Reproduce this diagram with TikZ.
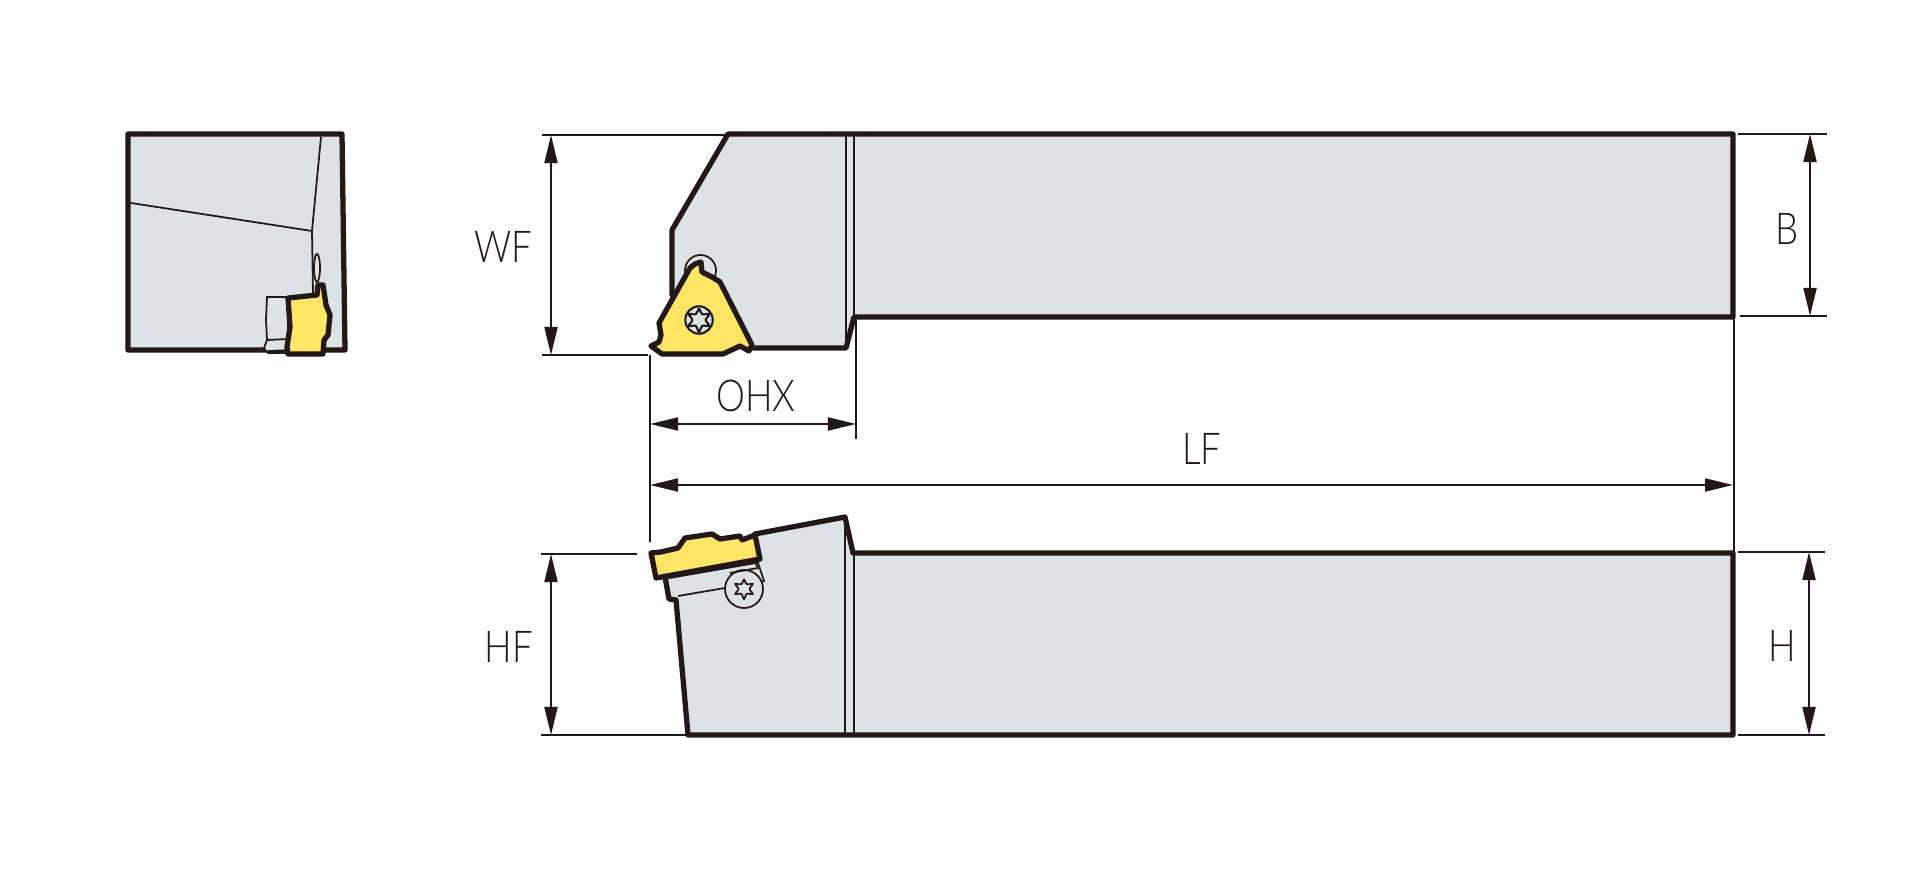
\documentclass[tikz,border=0pt]{standalone}
\usepackage{fontspec}
\setmainfont{Lato Light}[FakeStretch=0.83]
\usetikzlibrary{arrows.meta}
\definecolor{inkline}{HTML}{231815}
\definecolor{bodygray}{HTML}{DDE2E6}
\definecolor{tipyellow}{HTML}{FFE566}
\tikzset{>={Stealth[inset=0pt,length=0.28cm,width=0.13cm]}}
\tikzset{
    outline/.style={draw=inkline,line width=1.5pt,line join=round},
    thinline/.style={draw=inkline,line width=0.5pt},
    dimline/.style={draw=inkline,line width=0.55pt},
    dimarrow/.style={dimline,<->},
    dimlabel/.style={text=inkline,font=\fontsize{12.5}{14}\selectfont,inner sep=0pt},
}
\newcommand{\screwstar}[4]{\draw[draw=inkline,line width=#4] plot[domain=0:360,samples=13,smooth] ({#1+#3*(0.78+0.22*cos(6*\x))*sin(\x)},{#2-#3*(0.78+0.22*cos(6*\x))*cos(\x)});}

\begin{document}
\begin{tikzpicture}[x=0.01cm,y=-0.01cm]
    \useasboundingbox (0,0) rectangle (1919,886);
    % set up the end view
    \filldraw[outline,fill=bodygray] (128,134)--(342,134)--(345,350)--(128,350)--cycle;
    \draw[thinline] (321,137)--(312,231)--(313,293);
    \draw[thinline] (131,203)--(312,231);
    \draw[thinline] (317,268) ellipse (3 and 14);
    \filldraw[thinline,fill=bodygray] (267,297)--(266,320)--(267,340)--(264,348)--(268,353)--(288,353)--(288,297)--cycle;
    \draw[thinline] (267,340)--(288,339);
    \draw[draw=inkline,line width=1pt] (268,352)--(288,351);
    \filldraw[outline,fill=tipyellow] (288,298)--(317,295)--(318,285)--(323,285)--(326,305)--(330,315)--(328,335)--(324,340)--(323,354)--(288,354)--(287,347)--(290,327)--cycle;
    % set up the top view
    \filldraw[outline,fill=bodygray] (728,134)--(1733,134)--(1733,317)--(854,317)--(846,348)--(753,348)--(672,295)--(672,230)--cycle;
    \draw[thinline] (846,134)--(846,348);
    \draw[thinline] (854,134)--(854,317);
    \draw[thinline] (700.5,270.5) circle (15.5);
    \filldraw[outline,fill=tipyellow] (701,262)--(702,272)--(712,277)--(720,282)--(752,345)--(749,351)--(740,346)--(723,354)--(662,354)--(651,346)--(659,342)--(661,335)--(659,323)--(690,268)--(695,264)--cycle;
    \filldraw[draw=inkline,line width=0.6pt,fill=bodygray] (699,320) circle (13.7);
    \screwstar{699}{320}{12}{0.6pt}
    % set up the side view
    \filldraw[outline,fill=bodygray] (688,735)--(676,600)--(669,599)--(665,577)--(757,561)--(755,534)--(845,517)--(853,553)--(1733,553)--(1733,735)--cycle;
    \draw[thinline] (845,517)--(845,735);
    \draw[thinline] (854,553)--(854,735);
    \draw[thinline] (678,596)--(725,588);
    \draw[thinline] (758,563)--(764,581)--(761,582);
    \draw[thinline] (756,564)--(758,569);
    \draw[thinline] (730,573)--(758,568);
    \draw[thinline] (744,589) circle (19);
    \screwstar{744}{589}{10}{0.5pt}
    \filldraw[outline,fill=tipyellow] (656,578)--(651,553)--(661,552)--(678,548)--(685,538)--(712,534)--(720,539)--(740,536)--(742,540)--(755,535)--(760,559)--cycle;
    % set up the extension lines
    \coordinate (wftopl) at (542,135);
    \coordinate (wftopr) at (728,135);
    \coordinate (wfbotl) at (542,355);
    \coordinate (wfbotr) at (648,355);
    \coordinate (hftopl) at (541,554);
    \coordinate (hftopr) at (637,554);
    \coordinate (hfbotl) at (541,735);
    \coordinate (hfbotr) at (688,735);
    \coordinate (btopl) at (1738,134);
    \coordinate (btopr) at (1827,134);
    \coordinate (bbotl) at (1740,316);
    \coordinate (bbotr) at (1827,316);
    \coordinate (htopl) at (1738,552);
    \coordinate (htopr) at (1825,552);
    \coordinate (hbotl) at (1738,735);
    \coordinate (hbotr) at (1825,735);
    \coordinate (reftop) at (650,355);
    \coordinate (refbot) at (650,542);
    \coordinate (ohxtop) at (856,318);
    \coordinate (ohxbot) at (856,439);
    \coordinate (endtop) at (1734,317);
    \coordinate (endbot) at (1734,552);
    \foreach \a/\b in {wftopl/wftopr,wfbotl/wfbotr,hftopl/hftopr,hfbotl/hfbotr,btopl/btopr,bbotl/bbotr,htopl/htopr,hbotl/hbotr,reftop/refbot,ohxtop/ohxbot,endtop/endbot}
        \draw[dimline] (\a)--(\b);
    % draw arrows and text between them
    \coordinate (wfa) at (551,135);
    \coordinate (wfb) at (551,355);
    \coordinate (hfa) at (551,554);
    \coordinate (hfb) at (551,735);
    \coordinate (ba) at (1810,134);
    \coordinate (bb) at (1810,316);
    \coordinate (ha) at (1809,552);
    \coordinate (hb) at (1809,735);
    \coordinate (ohxa) at (650,424);
    \coordinate (ohxb) at (856,424);
    \coordinate (lfa) at (650,485);
    \coordinate (lfb) at (1733,485);
    \foreach \a/\b in {wfa/wfb,hfa/hfb,ba/bb,ha/hb,ohxa/ohxb,lfa/lfb}
        \draw[dimarrow] (\a)--(\b);
    \node[dimlabel] (WF) at (503,247) {WF};
    \node[dimlabel] (HF) at (509,647) {HF};
    \node[dimlabel] (B) at (1787,229) {B};
    \node[dimlabel] (H) at (1782,646) {H};
    \node[dimlabel] (OHX) at (756,396) {OHX};
    \node[dimlabel] (LF) at (1202,449) {LF};
\end{tikzpicture}
\end{document}
